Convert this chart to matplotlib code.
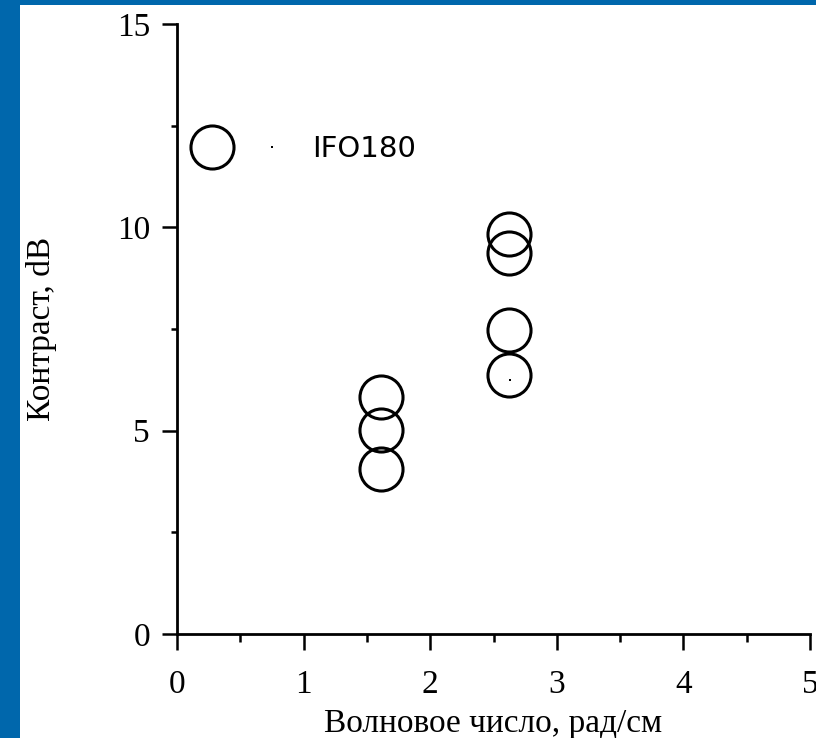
import matplotlib

matplotlib.use("Agg")

import matplotlib.pyplot as plt
from matplotlib.legend_handler import HandlerTuple
from matplotlib.lines import Line2D
from matplotlib.patches import Rectangle
from matplotlib.ticker import MultipleLocator

# -------------------------
# data
# -------------------------

wave_number = [1.61, 1.61, 1.61, 2.62, 2.62, 2.62, 2.62]
contrast_db = [5.83, 5.02, 4.06, 9.83, 9.37, 7.47, 6.36]

dot_x = [2.63]
dot_y = [6.25]

series_label = "IFO180"

x_ticks = [0, 1, 2, 3, 4, 5]
y_ticks = [0, 5, 10, 15]

BLUE = "#0067ac"

plt.rcParams["font.family"] = ["Liberation Serif", "DejaVu Serif"]

fig = plt.figure(
    figsize=(8.16, 7.38),
    dpi=100
)

# -------------------------
# blue frame (left + top)
# -------------------------

fig.patches.append(
    Rectangle(
        (0, 0),
        20 / 816,
        1,
        transform=fig.transFigure,
        facecolor=BLUE,
        edgecolor="none",
        zorder=0
    )
)

fig.patches.append(
    Rectangle(
        (0, 1 - 5 / 738),
        1,
        5 / 738,
        transform=fig.transFigure,
        facecolor=BLUE,
        edgecolor="none",
        zorder=0
    )
)

ax = fig.add_axes(
    [177 / 816, 104 / 738, 633 / 816, 610 / 738]
)

ax.patch.set_alpha(0)

# -------------------------
# points
# -------------------------

ax.plot(
    wave_number,
    contrast_db,
    linestyle="none",
    marker="o",
    markersize=31,
    markerfacecolor="none",
    markeredgecolor="black",
    markeredgewidth=2.2,
    clip_on=False
)

ax.plot(
    dot_x,
    dot_y,
    linestyle="none",
    marker="s",
    markersize=1.8,
    markerfacecolor="black",
    markeredgecolor="black",
    markeredgewidth=0
)

# -------------------------
# axes styling
# -------------------------

ax.set_xlim(0, 5)
ax.set_ylim(0, 15)

ax.set_xticks(x_ticks)
ax.set_yticks(y_ticks)

ax.xaxis.set_minor_locator(MultipleLocator(0.5))
ax.yaxis.set_minor_locator(MultipleLocator(2.5))

for side in ["top", "right"]:
    ax.spines[side].set_visible(False)

for side in ["left", "bottom"]:
    ax.spines[side].set_linewidth(2.0)

ax.tick_params(
    axis="x",
    which="major",
    direction="out",
    length=11.5,
    width=1.8,
    pad=14,
    labelsize=24
)

ax.tick_params(
    axis="x",
    which="minor",
    direction="out",
    length=5.5,
    width=1.8
)

ax.tick_params(
    axis="y",
    which="major",
    direction="out",
    length=11,
    width=1.8,
    pad=8.5,
    labelsize=24
)

ax.tick_params(
    axis="y",
    which="minor",
    direction="out",
    length=4.5,
    width=1.8
)

ax.set_xlabel(
    "Волновое число, рад/см",
    fontsize=24
)

ax.set_ylabel(
    "Контраст, dB",
    fontsize=24
)

ax.xaxis.set_label_coords(0.5, -0.122)
ax.yaxis.set_label_coords(-0.19, 0.5)

# -------------------------
# legend
# -------------------------

circle_handle = Line2D(
    [],
    [],
    linestyle="none",
    marker="o",
    markersize=31,
    markerfacecolor="none",
    markeredgecolor="black",
    markeredgewidth=2.2
)

dot_handle = Line2D(
    [],
    [],
    linestyle="none",
    marker="s",
    markersize=1.8,
    markerfacecolor="black",
    markeredgewidth=0
)

ax.legend(
    [(circle_handle, dot_handle)],
    [series_label],
    handler_map={tuple: HandlerTuple(ndivide=None, pad=0)},
    loc="center left",
    bbox_to_anchor=(0.008, 0.795),
    frameon=False,
    borderpad=0,
    borderaxespad=0,
    handlelength=4.11,
    handletextpad=0.34,
    prop={"family": "DejaVu Sans", "size": 21}
)

fig.savefig("out.png", dpi=100)
